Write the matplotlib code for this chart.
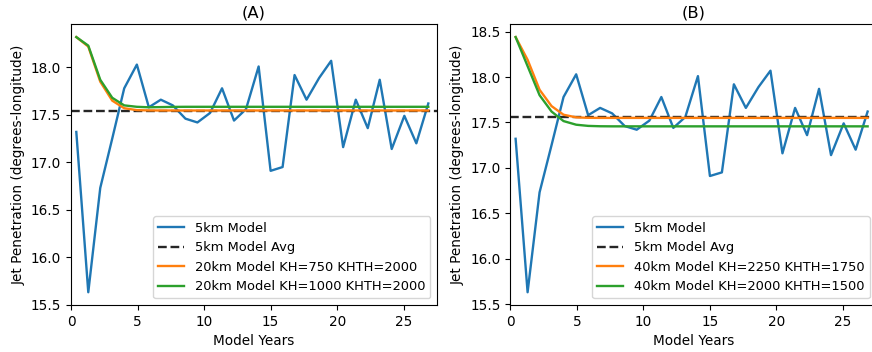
import matplotlib
matplotlib.use("Agg")
import matplotlib.pyplot as plt

plt.rcParams["font.size"] = 9.8
plt.rcParams["lines.linewidth"] = 1.7

# ----------------------------
# Data
# ----------------------------
years = [0.4, 1.3, 2.2, 3.1, 4.0, 4.95, 5.85, 6.75, 7.65, 8.6,
         9.5, 10.45, 11.35, 12.25, 13.15, 14.1, 15.0, 15.9, 16.8, 17.7,
         18.65, 19.55, 20.45, 21.4, 22.3, 23.2, 24.1, 25.05, 25.95, 26.85]

model_5km = [17.32, 15.63, 16.73, 17.25, 17.78, 18.03, 17.58, 17.66, 17.60, 17.46,
             17.42, 17.52, 17.78, 17.44, 17.56, 18.01, 16.91, 16.95, 17.92, 17.66,
             17.89, 18.07, 17.16, 17.66, 17.36, 17.87, 17.14, 17.49, 17.20, 17.62]

avg_5km_a = 17.545
avg_5km_b = 17.555

# panel A: 20km runs
kh750 = [18.32, 18.22, 17.85, 17.65, 17.57, 17.55, 17.547, 17.546, 17.546, 17.546,
         17.546, 17.546, 17.546, 17.546, 17.546, 17.546, 17.546, 17.546, 17.546, 17.546,
         17.546, 17.546, 17.546, 17.546, 17.546, 17.546, 17.546, 17.546, 17.546, 17.546]
kh1000 = [18.32, 18.23, 17.87, 17.68, 17.60, 17.585, 17.58, 17.582, 17.584, 17.585,
          17.585, 17.585, 17.585, 17.585, 17.585, 17.585, 17.585, 17.585, 17.585, 17.585,
          17.585, 17.585, 17.585, 17.585, 17.585, 17.585, 17.585, 17.585, 17.585, 17.585]

# panel B: 40km runs
kh2250 = [18.44, 18.19, 17.86, 17.68, 17.585, 17.556, 17.551, 17.55, 17.55, 17.55,
          17.55, 17.55, 17.55, 17.55, 17.55, 17.55, 17.55, 17.55, 17.55, 17.55,
          17.55, 17.55, 17.55, 17.55, 17.55, 17.55, 17.55, 17.55, 17.55, 17.55]
kh2000 = [18.44, 18.12, 17.80, 17.62, 17.515, 17.475, 17.462, 17.458, 17.457, 17.457,
          17.457, 17.457, 17.457, 17.457, 17.457, 17.457, 17.457, 17.457, 17.457, 17.457,
          17.457, 17.457, 17.457, 17.457, 17.457, 17.457, 17.457, 17.457, 17.457, 17.457]

panels = [
    ("(A)", avg_5km_a, kh750, "20km Model KH=750 KHTH=2000",
     kh1000, "20km Model KH=1000 KHTH=2000"),
    ("(B)", avg_5km_b, kh2250, "40km Model KH=2250 KHTH=1750",
     kh2000, "40km Model KH=2000 KHTH=1500"),
]

# ----------------------------
# Plot
# ----------------------------
fig = plt.figure(figsize=(8.72, 3.52), dpi=100)
lefts = [0.0814, 0.5852]

for left, (title, avg, run1, label1, run2, label2) in zip(lefts, panels):
    ax = fig.add_axes([left, 0.1335, 0.4197, 0.7974])
    ax.plot(years, model_5km, label="5km Model")
    ax.axhline(avg, color="0.15", linestyle="--", label="5km Model Avg")
    ax.plot(years, run1, label=label1)
    ax.plot(years, run2, label=label2)
    ax.set_xlim(0, 27.5)
    ax.set_xlabel("Model Years")
    ax.set_ylabel("Jet Penetration (degrees-longitude)")
    ax.set_title(title, pad=5)
    ax.legend(loc="lower right", fontsize=9.4)

fig.savefig("out.png", dpi=100)
